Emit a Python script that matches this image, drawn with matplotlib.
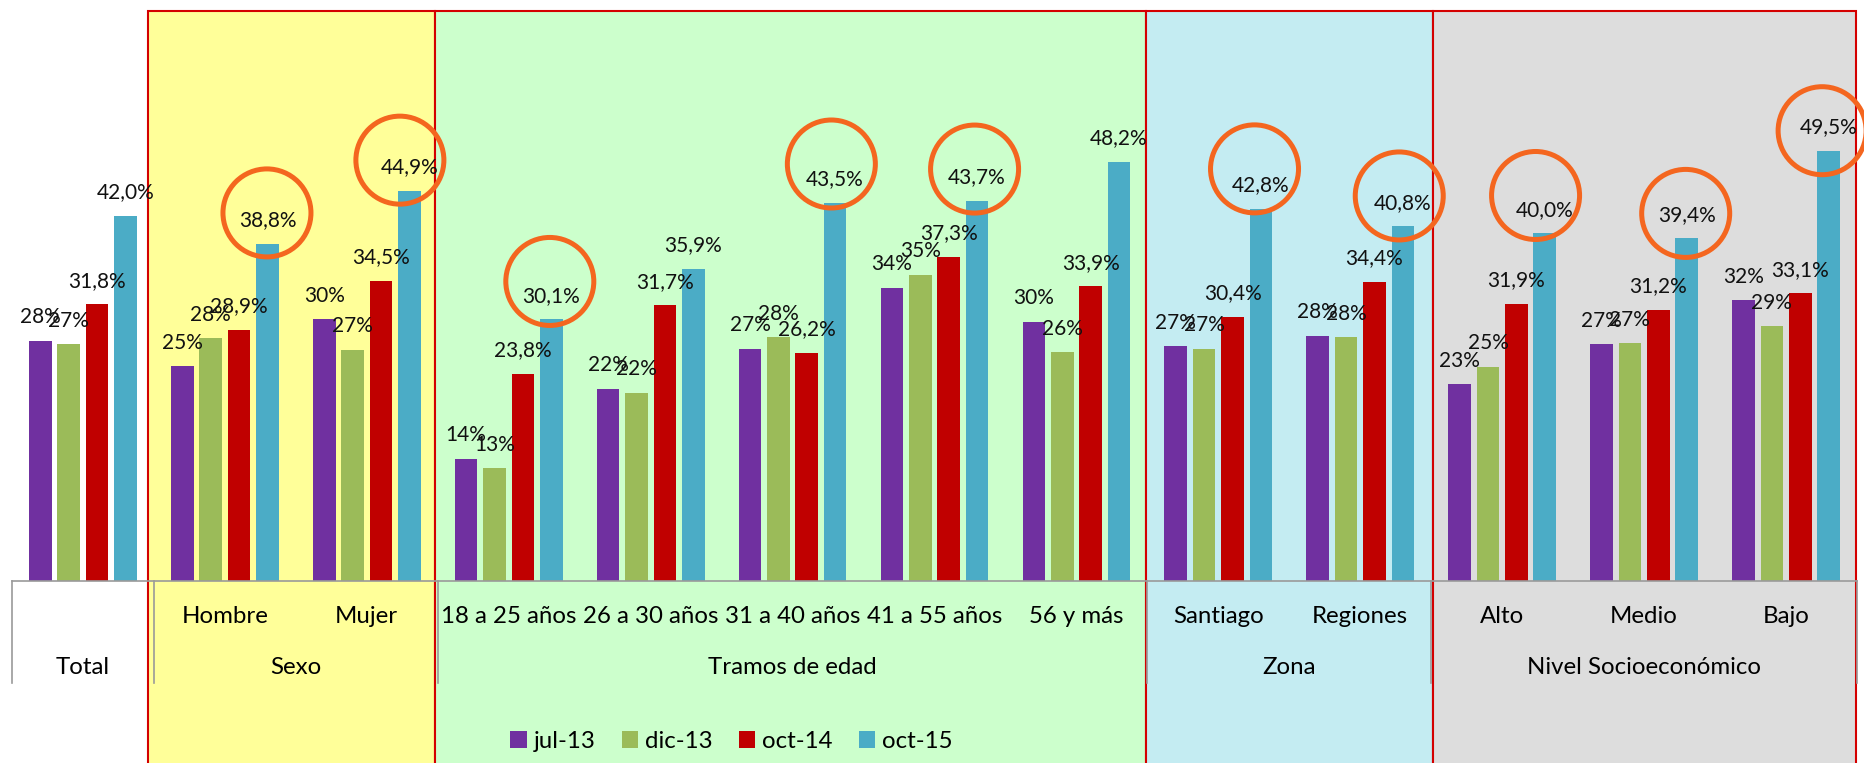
import numpy as np
import matplotlib
matplotlib.use('Agg')
from matplotlib import pyplot as plt
from matplotlib.patches import Rectangle, Ellipse
from matplotlib.transforms import blended_transform_factory

plt.rcParams['font.family'] = ['Lato', 'DejaVu Sans']

# categories (inner level) and their groups (outer level)
subcats = ['', 'Hombre', 'Mujer', '18 a 25 años', '26 a 30 años', '31 a 40 años',
           '41 a 55 años', '56 y más', 'Santiago', 'Regiones', 'Alto', 'Medio', 'Bajo']
groups = ['Total', 'Sexo', 'Tramos de edad', 'Zona', 'Nivel Socioeconómico']
group_sizes = [1, 2, 5, 2, 3]

series = ['jul-13', 'dic-13', 'oct-14', 'oct-15']
jul13 = [27.6, 24.7, 30.1, 14.0, 22.1, 26.7, 33.7, 29.8, 27.0, 28.2, 22.6, 27.2, 32.3]
dic13 = [27.2, 27.9, 26.6, 12.9, 21.6, 28.0, 35.2, 26.3, 26.7, 28.0, 24.6, 27.3, 29.3]
oct14 = [31.8, 28.9, 34.5, 23.8, 31.7, 26.2, 37.3, 33.9, 30.4, 34.4, 31.9, 31.2, 33.1]
oct15 = [42.0, 38.8, 44.9, 30.1, 35.9, 43.5, 43.7, 48.2, 42.8, 40.8, 40.0, 39.4, 49.5]

# oct-15 values that get an orange ring
circled = [1, 2, 3, 5, 6, 8, 9, 10, 11, 12]

colors = ['#7030A0', '#9BBB59', '#C00000', '#4BACC6']
decimals = [0, 0, 1, 1]
ring_color = '#F4661F'
# ring offsets from the top of each circled bar, in pixels
ring_dx = [-0.5, -9.5, -1.5, -3.8, -2.5, -6.4, -3.6, -9.2, -1.0, -6.5]
ring_dy = [30.7, 30.5, 37.7, 38.8, 32.0, 40.0, 30.3, 37.7, 25.0, 20.0]

# background panels per group: (x0, x1, fill)
panels = [(0.455, 2.484, '#FFFF99'), (2.484, 7.487, '#CCFFCC'),
          (7.487, 9.511, '#C4ECF2'), (9.511, 12.493, '#DDDDDD')]

W, H = 1864, 763
fig = plt.figure(figsize=(W / 100, H / 100), dpi=100)
ax = fig.add_axes([12 / W, 1 - 580.5 / H, 1845 / W, 569.5 / H])
ax.set_xlim(-0.5, 12.5)
ax.set_ylim(0, 65.59)
ax.axis('off')
px_x = 1845 / 13.0
px_y = 569.5 / 65.59

tb = blended_transform_factory(ax.transData, fig.transFigure)
for x0, x1, fc in panels:
    ax.add_patch(Rectangle((x0, -0.02), x1 - x0, 1.02 - 11 / H, transform=tb,
                           facecolor=fc, edgecolor='#D40000', lw=1.5,
                           zorder=0, clip_on=False))

x = np.arange(len(subcats))
handles = []
for k, vals in enumerate([jul13, dic13, oct14, oct15]):
    xs = x + (k - 1.5) * 0.2
    b = ax.bar(xs, vals, 0.159, color=colors[k], label=series[k], zorder=3)
    handles.append(b)
    for xi, v in zip(xs, vals):
        txt = f'{v:.{decimals[k]}f}%'.replace('.', ',')
        ax.annotate(txt, (xi, v), xytext=(0, 17.5 * 0.72), textcoords='offset points',
                    ha='center', va='baseline', fontsize=15, color='#111111', zorder=5)

for i, dx, dy in zip(circled, ring_dx, ring_dy):
    xc = x[i] + 0.3 + dx / px_x
    yc = oct15[i] + dy / px_y
    ax.add_patch(Ellipse((xc, yc), 2 * 44 / px_x, 2 * 44 / px_y, fill=False,
                         edgecolor=ring_color, lw=3.6, zorder=6, clip_on=False))

# two-level category axis
gray = '#9A9A9A'
ax.plot([-0.5, 12.5], [0, 0], color=gray, lw=1.2, zorder=4, clip_on=False)
bounds = np.concatenate([[0], np.cumsum(group_sizes)]) - 0.5
for b in bounds:
    ax.plot([b, b], [1 - 580.5 / H, 1 - 683 / H], color=gray, lw=1.2,
            transform=tb, clip_on=False, zorder=4)
for i, s in enumerate(subcats):
    ax.text(i, 1 - 623.3 / H, s, transform=tb, ha='center', va='baseline', fontsize=17.3)
for g, b0, b1 in zip(groups, bounds[:-1], bounds[1:]):
    ax.text((b0 + b1) / 2, 1 - 674.3 / H, g, transform=tb, ha='center', va='baseline',
            fontsize=17.3)

fig.legend(handles=handles, loc='center', bbox_to_anchor=(731.5 / W, 1 - 741.5 / H),
           ncol=4, frameon=False, fontsize=17.3, handlelength=0.68, handleheight=0.68,
           handletextpad=0.28, columnspacing=1.1)

fig.savefig('out.png', dpi=100, facecolor='white')
